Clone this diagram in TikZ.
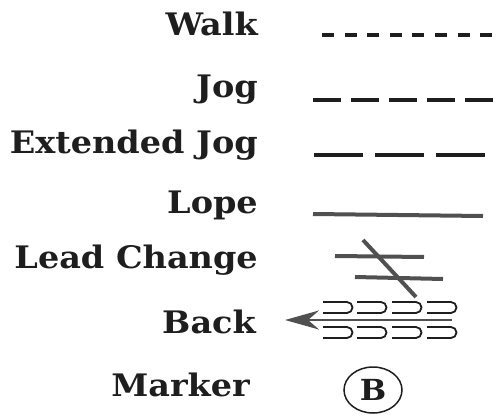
\documentclass[tikz,border=0pt]{standalone}
\usepackage{fontspec}
\setmainfont[FakeStretch=1.08]{DejaVu Serif}
\usetikzlibrary{arrows.meta,shapes.geometric}
\definecolor{ink}{HTML}{1E1E1E}
\definecolor{pencil}{HTML}{505050}
\begin{document}
\begin{tikzpicture}[x=1pt,y=-1pt,
  lbl/.style={anchor=base east,inner sep=0pt,text=ink,font=\fontsize{31}{34}\selectfont\bfseries},
  dashline/.style={draw=ink,line width=4pt},
  grayline/.style={draw=pencil,line width=4pt},
  ushape/.style={draw=ink,line width=1.8pt}]
\useasboundingbox (0,0) rectangle (501,415);
% labels
\node[lbl] (walk) at (258,35) {Walk};
\node[lbl] (jog) at (258,97) {Jog};
\node[lbl] (ejog) at (258,153) {Extended Jog};
\node[lbl] (lope) at (258,213) {Lope};
\node[lbl] (lead) at (258,268) {Lead Change};
\node[lbl] (back) at (256,333) {Back};
\node[lbl] (marker) at (250,396) {Marker};
% walk: short dashes
\foreach \i in {0,...,7}
  \draw[dashline] ({322+22.6*\i},35) -- ++(12,0);
% jog
\foreach \i in {0,...,4}
  \draw[dashline] ({313+38*\i},100) -- ++(28,0);
% extended jog
\foreach \i in {0,...,2}
  \draw[dashline] ({314+61*\i},155) -- ++(49,0);
% lope
\coordinate (lopeA) at (313,214);
\coordinate (lopeB) at (483,216);
\draw[grayline] (lopeA) -- (lopeB);
% lead change
\coordinate (lc1a) at (335,256);
\coordinate (lc1b) at (424,257);
\coordinate (lc2a) at (355,277);
\coordinate (lc2b) at (443,279);
\coordinate (lcda) at (363,240);
\coordinate (lcdb) at (416,297);
\draw[grayline] (lc1a) -- (lc1b);
\draw[grayline] (lc2a) -- (lc2b);
\draw[grayline] (lcda) -- (lcdb);
% back: U shapes
\foreach \x in {323,357,392,427} {
  \draw[ushape] (\x,302) -- ({\x+24},302) arc[start angle=-90,end angle=90,radius=5.5] -- (\x,313);
  \draw[ushape] (\x,327) -- ({\x+24},327) arc[start angle=-90,end angle=90,radius=5.5] -- (\x,338);
}
\coordinate (backS) at (452,320);
\coordinate (backE) at (285,320);
\draw[draw=pencil,line width=2.5pt,-{Stealth[length=34pt,width=19pt,inset=11pt]}] (backS) -- (backE);
% marker
\node[draw=ink,line width=1.5pt,ellipse,minimum width=58pt,minimum height=46pt,inner sep=0pt,text=ink,font=\fontsize{29}{32}\selectfont\bfseries] (mB) at (373,390) {B};
\end{tikzpicture}
\end{document}
